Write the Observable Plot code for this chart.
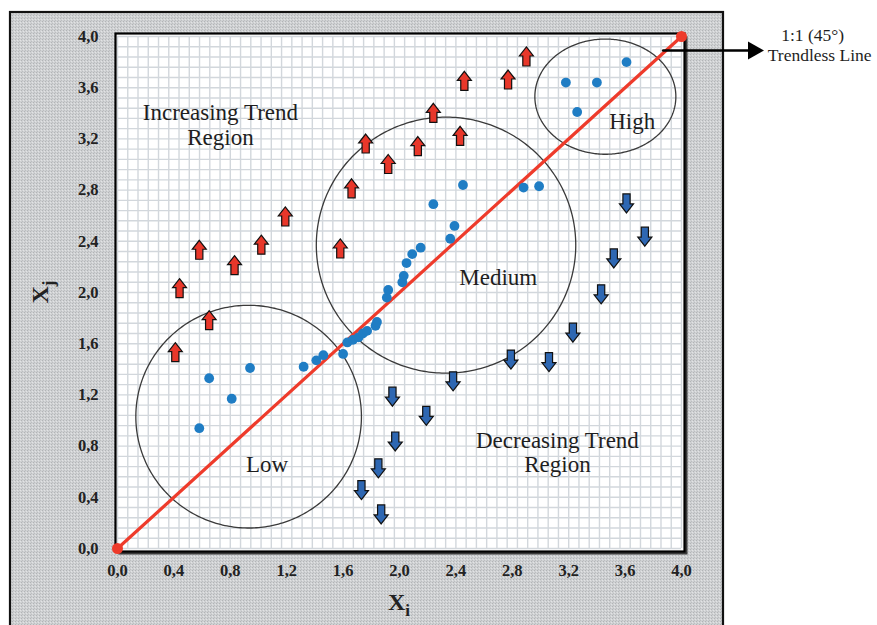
<!DOCTYPE html>
<html><head><meta charset="utf-8">
<script src="https://cdn.jsdelivr.net/npm/d3@7"></script>
<script src="https://cdn.jsdelivr.net/npm/@observablehq/plot@0.6"></script>
<style>body{margin:0;background:#fff;} #chart svg{display:block}</style>
</head><body><div id="chart"></div>
<script>
// ---- data ----
const tickValues = [0, 0.4, 0.8, 1.2, 1.6, 2.0, 2.4, 2.8, 3.2, 3.6, 4.0];
const pointX = [0.58, 0.65, 0.81, 0.94, 1.32, 1.41, 1.46, 1.60, 1.63, 1.67, 1.71, 1.74, 1.77, 1.83, 1.84, 1.91, 1.92, 2.02, 2.03, 2.05, 2.09, 2.15, 2.24, 2.36, 2.39, 2.45, 2.88, 2.99, 3.18, 3.40, 3.26, 3.61];
const pointY = [0.94, 1.33, 1.17, 1.41, 1.42, 1.47, 1.51, 1.52, 1.61, 1.63, 1.65, 1.68, 1.70, 1.74, 1.77, 1.96, 2.02, 2.08, 2.13, 2.23, 2.30, 2.35, 2.69, 2.42, 2.52, 2.84, 2.82, 2.83, 3.64, 3.64, 3.41, 3.80];
const upX = [0.41, 0.65, 0.44, 0.58, 0.83, 1.02, 1.19, 1.58, 1.66, 1.76, 1.92, 2.13, 2.24, 2.43, 2.46, 2.77, 2.90];
const upY = [1.53, 1.78, 2.03, 2.33, 2.21, 2.37, 2.59, 2.34, 2.81, 3.16, 3.00, 3.14, 3.40, 3.22, 3.65, 3.66, 3.84];
const downX = [3.61, 3.74, 3.52, 3.43, 3.23, 3.06, 2.79, 2.38, 1.95, 2.19, 1.97, 1.85, 1.73, 1.87];
const downY = [2.70, 2.44, 2.27, 1.99, 1.69, 1.46, 1.48, 1.31, 1.19, 1.04, 0.84, 0.63, 0.46, 0.27];
const regionName = ["Low", "Medium", "High"];
const regionCx = [0.93, 2.33, 3.46];
const regionCy = [1.03, 2.37, 3.53];
const regionRx = [0.80, 0.92, 0.50];
const regionRy = [0.87, 1.00, 0.45];
const labelText = ["Increasing Trend\nRegion", "Medium", "Low", "High", "Decreasing Trend\nRegion"];
const labelX = [0.73, 2.70, 1.06, 3.65, 3.12];
const labelY = [3.31, 2.12, 0.66, 3.34, 0.755];
const lineX = [0, 4];
const lineY = [0, 4];
const noteText = ["1:1 (45°)", "Trendless Line"];
const noteX = [4.93, 4.98];
const noteY = [4.01, 3.85];
const pointerX = [3.87, 4.50];
const pointerY = [3.89, 3.89];

// ---- tables ----
const points = pointX.map((x, i) => ({x, y: pointY[i]}));
const ups = upX.map((x, i) => ({x, y: upY[i]}));
const downs = downX.map((x, i) => ({x, y: downY[i]}));
const ellipses = regionName.flatMap((name, i) =>
  d3.range(0, 2 * Math.PI + 0.02, 0.02).map(t => ({
    name, x: regionCx[i] + regionRx[i] * Math.cos(t), y: regionCy[i] + regionRy[i] * Math.sin(t)
  })));
const labels = labelText.map((text, i) => ({text, x: labelX[i], y: labelY[i]}));
const diag = lineX.map((x, i) => ({x, y: lineY[i]}));
const notes = noteText.map((text, i) => ({text, x: noteX[i], y: noteY[i]}));
const pointer = pointerX.map((x, i) => ({x, y: pointerY[i]}));

const arrowSym = dir => ({
  draw(ctx, size) {
    const s = Math.sqrt(size / Math.PI) / 10 * dir;
    ctx.moveTo(0, -10 * s);
    ctx.lineTo(7 * s * dir, -1 * s);
    ctx.lineTo(3.6 * s * dir, -1 * s);
    ctx.lineTo(3.6 * s * dir, 9 * s);
    ctx.lineTo(-3.6 * s * dir, 9 * s);
    ctx.lineTo(-3.6 * s * dir, -1 * s);
    ctx.lineTo(-7 * s * dir, -1 * s);
    ctx.closePath();
  }
});
const headSym = {
  draw(ctx, size) {
    const s = Math.sqrt(size / Math.PI) / 10;
    ctx.moveTo(12 * s, 0);
    ctx.lineTo(-4 * s, -9 * s);
    ctx.lineTo(-4 * s, 9 * s);
    ctx.closePath();
  }
};

const fmt = d => d3.format(".1f")(d).replace(".", ",");
const gridStep = d3.range(0, 4.0001, 0.08);
const gridStepX = d3.range(0, 4.0001, 4 / 55);
const serif = "Liberation Serif, Times New Roman, serif";

const chart = Plot.plot({
  width: 877, height: 625,
  marginLeft: 117, marginRight: 196, marginTop: 36, marginBottom: 77,
  x: {domain: [0, 4]},
  y: {domain: [0, 4]},
  style: {fontFamily: serif, background: "transparent", overflow: "visible"},
  marks: [
    Plot.frame({fill: "#3a3a3a", dx: 3, dy: 3, insetLeft: -2, insetRight: -3, insetTop: -3, insetBottom: -3}),
    Plot.frame({fill: "white", insetLeft: -2, insetRight: -3, insetTop: -3, insetBottom: -3}),
    Plot.gridX(gridStepX, {stroke: "#d2d7dc", strokeOpacity: 1, strokeWidth: 1.4}),
    Plot.gridY(gridStep, {stroke: "#d2d7dc", strokeOpacity: 1, strokeWidth: 1.4}),
    Plot.frame({stroke: "black", strokeWidth: 2.2, insetLeft: -2, insetRight: -3, insetTop: -3, insetBottom: -3}),
    Plot.axisX({ticks: tickValues, tickFormat: fmt, tickSize: 0, tickPadding: 16, fontWeight: "bold", fontSize: 16.5, fill: "#222", label: null}),
    Plot.axisY({ticks: tickValues, tickFormat: fmt, tickSize: 0, tickPadding: 19, fontWeight: "bold", fontSize: 16.5, fill: "#222", label: null}),
    Plot.line(ellipses, {x: "x", y: "y", z: "name", stroke: "#3a3a3a", strokeWidth: 1.3}),
    Plot.line(diag, {x: "x", y: "y", stroke: "#ee3b2b", strokeWidth: 3.2}),
    Plot.dot(diag, {x: "x", y: "y", r: 5.5, fill: "#ee3b2b"}),
    Plot.dot(points, {x: "x", y: "y", r: 4.9, fill: "#1f7dc4"}),
    Plot.dot(ups, {x: "x", y: "y", r: 10, symbol: arrowSym(1), fill: "#e8372a", stroke: "#111", strokeWidth: 1.2}),
    Plot.dot(downs, {x: "x", y: "y", r: 10, symbol: arrowSym(-1), fill: "#2e67b2", stroke: "#111", strokeWidth: 1.2}),
    Plot.text(labels, {x: "x", y: "y", text: "text", fontSize: 23, fill: "#1e1e1e", lineHeight: 1.05}),
    Plot.line(pointer, {x: "x", y: "y", stroke: "black", strokeWidth: 2.5}),
    Plot.dot(pointer.slice(1), {x: "x", y: "y", r: 10, symbol: headSym, fill: "black"}),
    Plot.text(notes, {x: "x", y: "y", text: "text", fontSize: 17.5, fill: "#1e1e1e"})
  ]
});

// outer textured panel behind everything
const svg = d3.select(chart);
const defs = svg.insert("defs", ":first-child");
const pat = defs.append("pattern").attr("id", "hatch").attr("patternUnits", "userSpaceOnUse").attr("width", 3).attr("height", 3);
pat.append("rect").attr("width", 3).attr("height", 3).attr("fill", "#cfd1d3");
pat.append("rect").attr("width", 1).attr("height", 1).attr("fill", "#b2b4b6");
pat.append("rect").attr("x", 2).attr("y", 1).attr("width", 1).attr("height", 1).attr("fill", "#e2e3e4");
pat.append("rect").attr("x", 1).attr("y", 2).attr("width", 1).attr("height", 1).attr("fill", "#bcbec0");
svg.insert("rect", "defs + *").attr("x", 10).attr("y", 12).attr("width", 713).attr("height", 630)
  .attr("fill", "url(#hatch)").attr("stroke", "#111").attr("stroke-width", 2.2);

// axis titles with subscripts
const tx = svg.append("text").attr("x", 399).attr("y", 610).attr("text-anchor", "middle")
  .attr("font-family", serif).attr("font-weight", "bold").attr("font-size", 24).attr("fill", "#222");
tx.append("tspan").text("X");
tx.append("tspan").attr("dy", 6).attr("font-size", 17).text("i");
const ty = svg.append("text").attr("transform", "translate(48,292) rotate(-90)").attr("text-anchor", "middle")
  .attr("font-family", serif).attr("font-weight", "bold").attr("font-size", 24).attr("fill", "#222");
ty.append("tspan").text("X");
ty.append("tspan").attr("dy", 6).attr("font-size", 17).text("j");

document.getElementById("chart").append(chart);
</script>
</body></html>
